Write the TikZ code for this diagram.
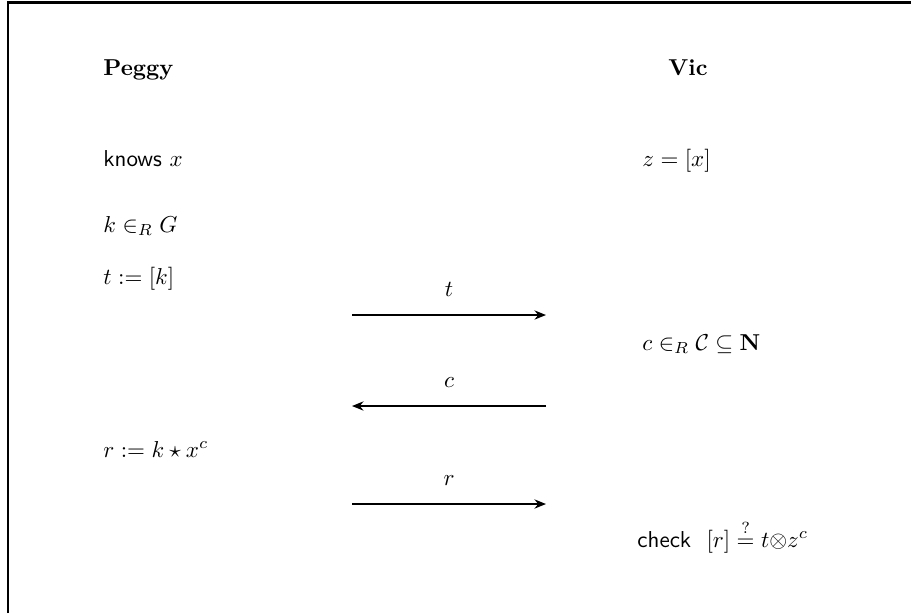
\documentclass[tikz,border=0pt]{standalone}
\usepackage{amsmath,amssymb}
\usetikzlibrary{positioning, arrows.meta}

\begin{document}
\begin{tikzpicture}[
			x=0.4348pt, y=-0.4348pt,
			party/.style={anchor=base, inner sep=0pt, font=\bfseries},
			lstep/.style={anchor=base west, inner sep=0pt},
			rstep/.style={anchor=base west, inner sep=0pt},
			msg/.style={-{Stealth[length=5pt, width=4pt]}, line width=1.1pt},
			lbl/.style={above, yshift=4pt}
		]
		\useasboundingbox (0,0) rectangle (911,613);

		% Frame
		\draw[line width=1.3pt] (8,613) -- (8,2) -- (911,2);

		% Parties
		\node[party, anchor=base west] (peggy) at (103,75) {Peggy};
		\node[party] (vic) at (688,75) {Vic};

		% Peggy's side
		\node[lstep] (knows) at (103,166) {\textsf{knows} $x$};
		\node[lstep] (pick) at (103,232) {$k \in_R G$};
		\node[lstep] (commit) at (103,284) {$t := [k]$};
		\node[lstep] (resp) at (103,457) {$r := k \star x^c$};

		% Vic's side
		\node[rstep] (pub) at (642,166) {$z = [x]$};
		\node[rstep] (chal) at (642,350) {$c \in_R \mathcal{C} \subseteq \mathbf{N}$};
		\node[rstep] (check) at (637,547) {\textsf{check}~~$[r] \stackrel{?}{=} t{\otimes}z^c$};

		% Message ends
		\coordinate (tL) at (352,315);
		\coordinate (tR) at (546,315);
		\coordinate (cL) at (352,406);
		\coordinate (cR) at (546,406);
		\coordinate (rL) at (352,504);
		\coordinate (rR) at (546,504);

		% Messages
		\draw[msg] (tL) -- node[lbl] (tlbl) {$t$} (tR);
		\draw[msg] (cR) -- node[lbl] (clbl) {$c$} (cL);
		\draw[msg] (rL) -- node[lbl] (rlbl) {$r$} (rR);

		\end{tikzpicture}
\end{document}
